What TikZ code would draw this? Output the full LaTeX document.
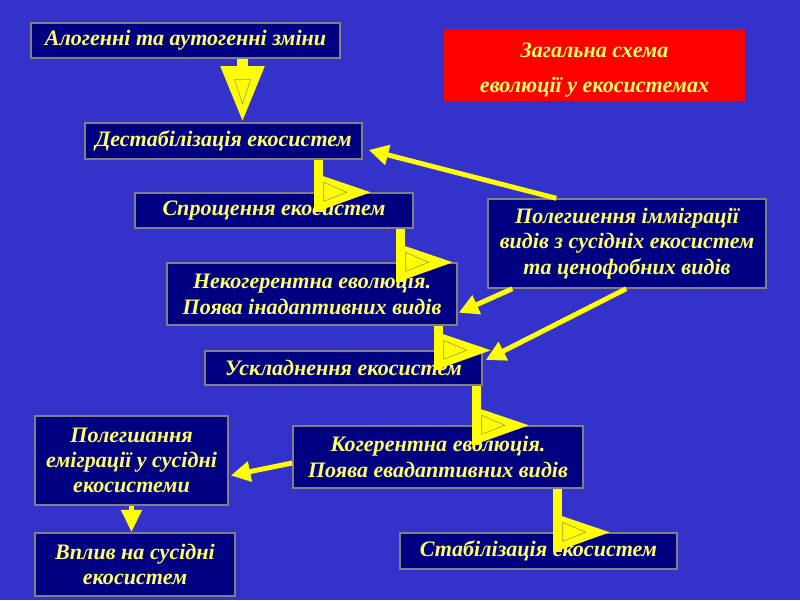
\documentclass[tikz,border=0pt]{standalone}
\usepackage{fontspec}
\setmainfont{Liberation Serif}
\usetikzlibrary{calc,arrows.meta}
\definecolor{slide}{HTML}{3333CC}
\definecolor{navybox}{HTML}{000080}
\definecolor{arrowyellow}{HTML}{FFFF00}
\definecolor{textyellow}{HTML}{FFFF66}

\begin{document}
\begin{tikzpicture}[x=0.025cm, y=-0.025cm,
    box/.style={draw=gray, line width=1pt, fill=navybox, text=textyellow,
        font=\bfseries\itshape\fontsize{15.7}{18}\selectfont, align=center, inner sep=0pt},
    titlebox/.style={fill=red, text=textyellow,
        font=\bfseries\itshape\fontsize{15.7}{25}\selectfont, align=center, inner sep=0pt},
    shaft/.style={draw=arrowyellow, line width=6.4pt},
    flag/.style={fill=arrowyellow},
    mark line/.style={draw=yellow!55!black, line width=0.4pt},
    link/.style={draw=arrowyellow, line width=3.5pt, -{Triangle[length=14pt,width=14pt]}}]

    \fill[slide] (0,0) rectangle (800,600);
    \useasboundingbox (0,0) rectangle (800,600);

    % boxes
    \node[box, minimum width=7.725cm, minimum height=0.875cm] (alog)  at (185.5,40.5) {Алогенні та аутогенні зміни};
    \node[box, minimum width=6.925cm, minimum height=0.9cm]   (dest)  at (223.5,141)  {Дестабілізація екосистем};
    \node[box, minimum width=6.95cm,  minimum height=0.875cm] (spro)  at (274,210.5)  {Спрощення екосистем};
    \node[box, minimum width=7.25cm,  minimum height=1.55cm]  (nekog) at (312,294)    {Некогерентна еволюція.\\Поява інадаптивних видів};
    \node[box, minimum width=6.925cm, minimum height=0.85cm]  (uskl)  at (343.5,368)  {Ускладнення екосистем};
    \node[box, minimum width=7.25cm,  minimum height=1.55cm]  (kog)   at (438,457)    {Когерентна еволюція.\\Поява евадаптивних видів};
    \node[box, minimum width=6.925cm, minimum height=0.9cm]   (stab)  at (538.5,551)  {Стабілізація екосистем};
    \node[box, minimum width=4.825cm, minimum height=2.225cm] (emig)  at (131.5,460.5) {Полегшання\\еміграції у сусідні\\екосистеми};
    \node[box, minimum width=5cm,     minimum height=1.575cm] (vplyv) at (135,564.5)  {Вплив на сусідні\\екосистем};
    \node[box, minimum width=6.95cm,  minimum height=2.225cm] (immig) at (627,243.5)  {Полегшення імміграції\\видів з сусідніх екосистем\\та ценофобних видів};
    \node[titlebox, minimum width=7.525cm, minimum height=1.8cm] (title) at (594.5,65) {\rule{0pt}{18pt}Загальна схема\\еволюції у екосистемах};

    % big arrow at the top
    \coordinate (a1) at ($(alog.south)+(57,0)$);
    \draw[arrowyellow, line width=8.5pt, -{Triangle[length=40pt,width=29pt]}] (a1) -- (a1 |- dest.north);
    \draw[mark line] ($(a1)+(-8,21)$) -- ($(a1)+(8,21)$) -- ($(a1)+(0,45)$) -- cycle;

    % step arrows
    \foreach \a/\b/\d in {dest/spro/44, spro/nekog/13, nekog/uskl/19, uskl/kog/6, kog/stab/26} {
        \coordinate (s\a) at ($(\a.south east)+(-\d,0)$);
        \coordinate (t\a) at (s\a |- \b.north);
        \draw[shaft] (s\a) -- ($(t\a)+(0,20)$);
        \fill[flag] ($(t\a)+(-4,-19)$) -- ($(t\a)+(52,0)$) -- ($(t\a)+(-4,20)$) -- cycle;
        \draw[mark line] ($(t\a)+(5,-10)$) -- ($(t\a)+(28,0)$) -- ($(t\a)+(5,9)$) -- cycle;
    }

    % thin arrows
    \draw[link] ($(immig.north west)+(69,0)$) -- ($(dest.east)+(6,9)$);
    \draw[link] ($(immig.south west)+(25,0)$) -- ($(nekog.south east)+(1,-13)$);
    \draw[link] ($(immig.south west)+(139,0)$) -- ($(uskl.east)+(3,-8)$);
    \draw[link] ($(kog.west)+(0,6)$) -- ($(emig.east)+(2,15)$);
    \draw[arrowyellow, line width=4pt, -{Triangle[length=16pt,width=14pt]}] (emig.south) -- (emig.south |- vplyv.north);

\end{tikzpicture}
\end{document}
